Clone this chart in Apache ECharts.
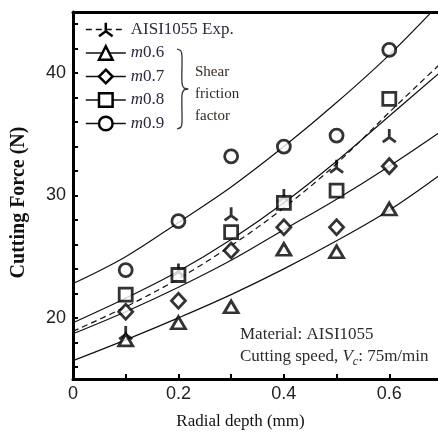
<!DOCTYPE html>
<html>
<head>
<meta charset="utf-8">
<script src="https://cdn.jsdelivr.net/npm/echarts@6/dist/echarts.min.js"></script>
<style>
html,body{margin:0;padding:0;background:#fff;overflow:hidden;}
#main{width:442px;height:435px;}
</style>
</head>
<body>
<div id="main"></div>
<script>
// measured points (radial depth in mm, force in N)
var radialDepth = [0.1, 0.2, 0.3, 0.4, 0.5, 0.6];
var expForce = [18.8, 23.9, 28.5, 30.0, 32.4, 34.9];
var m06Force = [18.2, 19.6, 20.9, 25.6, 25.4, 28.9];
var m07Force = [20.5, 21.4, 25.5, 27.4, 27.4, 32.4];
var m08Force = [21.9, 23.5, 27.0, 29.4, 30.4, 37.9];
var m09Force = [23.9, 27.9, 33.2, 34.0, 34.9, 41.9];

// fitted curves
var fitDepth = [0, 0.1, 0.2, 0.3, 0.4, 0.5, 0.6, 0.7];
var expFit = [18.9, 20.9, 23.2, 25.9, 29.0, 32.6, 36.8, 40.9];
var m06Fit = [16.5, 18.2, 20.0, 21.9, 24.0, 26.3, 28.8, 31.8];
var m07Fit = [18.7, 20.5, 22.5, 24.7, 27.2, 29.7, 32.4, 35.3];
var m08Fit = [19.6, 21.6, 23.8, 26.4, 29.4, 32.8, 36.5, 40.2];
var m09Fit = [22.8, 25.0, 27.8, 30.7, 34.0, 37.6, 41.5, 45.9];

var xLabels = [0, 0.2, 0.4, 0.6];
var xTicks = [0.1, 0.2, 0.3, 0.4, 0.5, 0.6];
var yLabels = [20, 30, 40];
var yTicks = [16, 18, 20, 22, 24, 26, 28, 30, 32, 34, 36, 38, 40, 42, 44];

var triStar = 'path://M6,0 L6,7 M6,7 L0,11 M6,7 L12,11';
var serif = '"Liberation Serif", "Times New Roman", serif';

function pairs(xs, ys){
    return xs.map(function(x, i){ return [x, ys[i]]; });
}

function fitSeries(name, ys, symbol, dashed){
    return {
        name: name,
        type: 'line',
        data: pairs(fitDepth, ys),
        smooth: 0.35,
        showSymbol: false,
        symbol: symbol,
        silent: true,
        z: 2,
        lineStyle: { color: '#111', width: 1.2, type: dashed ? [6, 4] : 'solid' },
        itemStyle: { color: '#fff', borderColor: '#000', borderWidth: 2.5 }
    };
}

function pointSeries(name, ys, symbol, size){
    return {
        name: name,
        type: 'scatter',
        data: pairs(radialDepth, ys),
        symbol: symbol,
        symbolSize: size,
        z: 3,
        itemStyle: { color: '#fff', borderColor: '#000', borderWidth: 2.8 }
    };
}

var myChart = echarts.init(document.getElementById('main'), null, { renderer: 'canvas' });

var option = {
    animation: false,
    backgroundColor: '#fff',
    grid: { left: 73, right: 0, top: 12, bottom: 55 },
    legend: {
        data: ['AISI1055 Exp.', 'm0.6', 'm0.7', 'm0.8', 'm0.9'],
        orient: 'vertical',
        left: 85,
        top: 21,
        padding: 0,
        itemWidth: 40,
        itemHeight: 17,
        itemGap: 6.5,
        selectedMode: false,
        formatter: function(name){
            return name.charAt(0) == 'm' ? '{i|m}' + name.slice(1) : name;
        },
        textStyle: {
            fontFamily: serif, fontSize: 17, color: '#2a2a40', lineHeight: 17,
            rich: { i: { fontFamily: serif, fontSize: 17, fontStyle: 'italic', color: '#2a2a40', lineHeight: 17 } }
        },
        itemStyle: { color: '#fff', borderColor: '#000', borderWidth: 2.5 },
        lineStyle: { color: '#111', width: 1.6 }
    },
    xAxis: [
        {
            type: 'value',
            min: 0,
            max: 0.7,
            name: 'Radial depth (mm)',
            nameLocation: 'middle',
            nameGap: 34,
            nameTextStyle: { fontFamily: serif, fontSize: 17, color: '#111', padding: [0, 34, 0, 0] },
            axisLine: { onZero: false, lineStyle: { color: '#000', width: 3 } },
            axisTick: { inside: true, length: 5, customValues: xTicks, lineStyle: { color: '#000', width: 2 } },
            axisLabel: { customValues: xLabels, fontFamily: 'Liberation Sans', fontSize: 18, color: '#222', margin: 6 },
            splitLine: { show: false }
        },
        {
            type: 'value',
            position: 'top',
            min: 0,
            max: 0.7,
            axisLine: { onZero: false, lineStyle: { color: '#000', width: 3 } },
            axisTick: { show: false },
            axisLabel: { show: false },
            splitLine: { show: false }
        }
    ],
    yAxis: {
        type: 'value',
        min: 15,
        max: 45,
        name: 'Cutting Force (N)',
        nameLocation: 'middle',
        nameRotate: 90,
        nameGap: 44,
        nameTextStyle: { fontFamily: serif, fontWeight: 'bold', fontSize: 20, color: '#111', padding: [0, 14, 0, 0] },
        axisLine: { show: true, onZero: false, lineStyle: { color: '#000', width: 3 } },
        axisTick: { show: true, inside: true, length: 5, customValues: yTicks, lineStyle: { color: '#000', width: 2 } },
        axisLabel: { customValues: yLabels, fontFamily: 'Liberation Sans', fontSize: 18, color: '#222', margin: 7 },
        splitLine: { show: false }
    },
    graphic: [
        {
            type: 'polyline',
            shape: { points: [[177, 49], [181, 51], [182, 57], [182, 83], [184, 88], [188, 89], [184, 90], [182, 95], [182, 122], [181, 127], [177, 129]], smooth: 0.3 },
            style: { fill: null, stroke: '#333', lineWidth: 1.3 }
        },
        {
            type: 'text',
            left: 195,
            top: 61,
            style: { text: 'Shear\nfriction\nfactor', fontFamily: serif, fontSize: 15, lineHeight: 22, fill: '#33291f' }
        },
        {
            type: 'text',
            left: 240,
            top: 324,
            style: {
                text: 'Material: AISI1055\nCutting speed, {i|V}{s|c}: 75m/min',
                fontFamily: serif, fontSize: 17, lineHeight: 22, fill: '#2f2a2a',
                rich: {
                    i: { fontFamily: serif, fontSize: 17, fontStyle: 'italic', fill: '#2f2a2a', lineHeight: 22 },
                    s: { fontFamily: serif, fontSize: 12, fontStyle: 'italic', fill: '#2f2a2a', lineHeight: 22, verticalAlign: 'bottom' }
                }
            }
        }
    ],
    series: [
        fitSeries('AISI1055 Exp.', expFit, triStar, true),
        fitSeries('m0.6', m06Fit, 'triangle', false),
        fitSeries('m0.7', m07Fit, 'diamond', false),
        fitSeries('m0.8', m08Fit, 'rect', false),
        fitSeries('m0.9', m09Fit, 'circle', false),
        pointSeries('AISI1055 Exp.', expForce, triStar, [13, 13]),
        pointSeries('m0.6', m06Force, 'triangle', [14, 12]),
        pointSeries('m0.7', m07Force, 'diamond', [14, 15]),
        pointSeries('m0.8', m08Force, 'rect', 13),
        pointSeries('m0.9', m09Force, 'circle', 13)
    ]
};

myChart.setOption(option);
</script>
</body>
</html>
